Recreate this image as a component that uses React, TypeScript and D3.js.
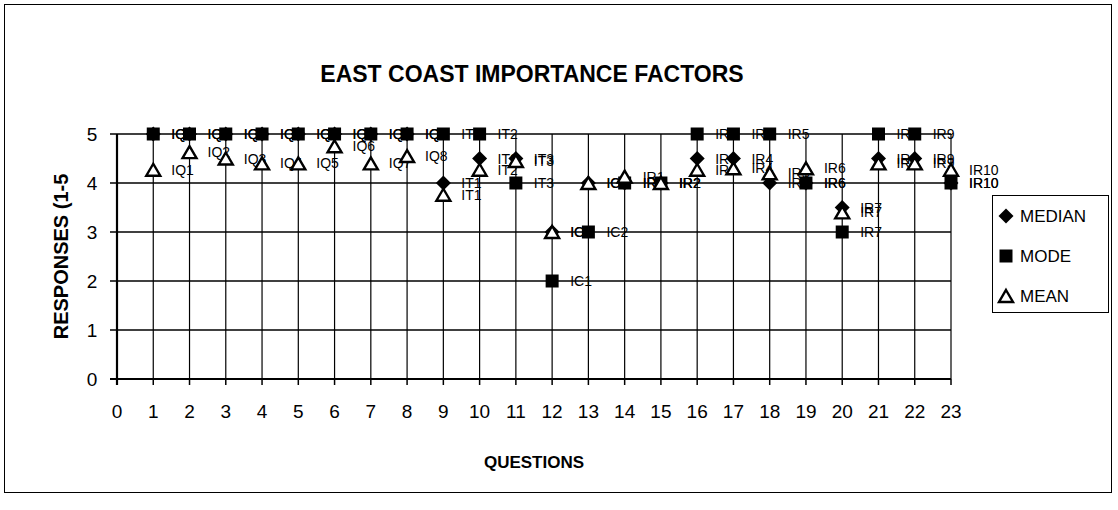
import React from 'react';
import * as d3 from 'd3';

// question codes, one per x position 1..23
const questions = [
  'IQ1', 'IQ2', 'IQ3', 'IQ4', 'IQ5', 'IQ6', 'IQ7', 'IQ8',
  'IT1', 'IT2', 'IT3', 'IC1', 'IC2',
  'IR1', 'IR2', 'IR3', 'IR4', 'IR5', 'IR6', 'IR7', 'IR8', 'IR9', 'IR10',
];
const medianValues = [5, 5, 5, 5, 5, 5, 5, 5, 4, 4.5, 4.5, 3, 4, 4, 4, 4.5, 4.5, 4, 4, 3.5, 4.5, 4.5, 4];
const modeValues = [5, 5, 5, 5, 5, 5, 5, 5, 5, 5, 4, 2, 3, 4, 4, 5, 5, 5, 4, 3, 5, 5, 4];
const meanValues = [4.27, 4.63, 4.5, 4.4, 4.4, 4.75, 4.4, 4.55, 3.76, 4.27, 4.45, 3.0, 4.0, 4.13, 4.0, 4.27, 4.3, 4.2, 4.3, 3.4, 4.4, 4.4, 4.27];
const xTicks = d3.range(0, 24);
const yTicks = [0, 1, 2, 3, 4, 5];

const W = 1118;
const H = 510;
const font = 'Arial, "Liberation Sans", sans-serif';

const x = d3.scaleLinear().domain([0, 23]).range([117, 951]);
const y = d3.scaleLinear().domain([0, 5]).range([379, 134]);

// marker outlines, roughly as large as the scanned ones
const diamond = 'M0,-7.5L7.5,0L0,7.5L-7.5,0Z';
const square = 'M-6.5,-6.5H6.5V6.5H-6.5Z';
const triangle = 'M0,-6L7,6H-7Z';

type Series = { key: string; values: number[]; shape: string; filled: boolean };
const series: Series[] = [
  { key: 'MEDIAN', values: medianValues, shape: diamond, filled: true },
  { key: 'MODE', values: modeValues, shape: square, filled: true },
  { key: 'MEAN', values: meanValues, shape: triangle, filled: false },
];

const Marker = ({ s, cx, cy }: { s: Series; cx: number; cy: number }) => (
  <path
    d={s.shape}
    transform={`translate(${cx},${cy})`}
    fill={s.filled ? '#000' : '#fff'}
    stroke="#000"
    strokeWidth={s.filled ? 0 : 2.4}
  />
);

export default function App() {
  const [x0, x1] = x.range();
  const [y0, y1] = y.range();
  return (
    <svg width={W} height={H} style={{ position: 'absolute', left: 0, top: 0, background: '#fff' }}>
      <rect x={4.5} y={4.5} width={1107} height={488} fill="#fff" stroke="#000" strokeWidth={1} />

      <text x={532} y={82} textAnchor="middle" fontFamily={font} fontWeight="bold" fontSize={23}>
        EAST COAST IMPORTANCE FACTORS
      </text>

      {/* grid */}
      {yTicks.slice(1).map(t => (
        <line key={'gy' + t} x1={x0} x2={x1} y1={y(t)} y2={y(t)} stroke="#000" strokeWidth={1.5} />
      ))}
      {xTicks.slice(1).map(t => (
        <line key={'gx' + t} x1={x(t)} x2={x(t)} y1={y0} y2={y1} stroke="#000" strokeWidth={1.2} />
      ))}

      {/* axes */}
      <line x1={x0} x2={x0} y1={y0 + 6} y2={y1} stroke="#000" strokeWidth={2.2} />
      <line x1={x0 - 7} x2={x1} y1={y0} y2={y0} stroke="#000" strokeWidth={2.2} />
      {yTicks.map(t => (
        <g key={'ty' + t}>
          <line x1={x0 - 7} x2={x0} y1={y(t)} y2={y(t)} stroke="#000" strokeWidth={1.5} />
          <text x={92} y={y(t)} dy="0.36em" textAnchor="middle" fontFamily={font} fontSize={19}>{t}</text>
        </g>
      ))}
      {xTicks.map(t => (
        <g key={'tx' + t}>
          <line x1={x(t)} x2={x(t)} y1={y0} y2={y0 + 6} stroke="#000" strokeWidth={1.5} />
          <text x={x(t)} y={418} textAnchor="middle" fontFamily={font} fontSize={19}>{t}</text>
        </g>
      ))}

      <text x={534} y={468} textAnchor="middle" fontFamily={font} fontWeight="bold" fontSize={17}>QUESTIONS</text>
      <text
        transform={`translate(68,${(y0 + y1) / 2}) rotate(-90)`}
        textAnchor="middle"
        fontFamily={font}
        fontWeight="bold"
        fontSize={20}
      >
        RESPONSES (1-5
      </text>

      {/* data labels */}
      {series.map(s =>
        s.values.map((v, i) => (
          <text
            key={s.key + 'l' + i}
            x={x(i + 1) + 18}
            y={y(v)}
            dy="0.36em"
            fontFamily={font}
            fontSize={14}
          >
            {questions[i]}
          </text>
        ))
      )}

      {/* markers */}
      {series.map(s =>
        s.values.map((v, i) => <Marker key={s.key + 'm' + i} s={s} cx={x(i + 1)} cy={y(v)} />)
      )}

      {/* legend */}
      <rect x={992.5} y={195.5} width={116} height={117} fill="#fff" stroke="#000" strokeWidth={1} />
      {series.map((s, i) => (
        <g key={'lg' + s.key} transform={`translate(1006,${216 + i * 40})`}>
          <Marker s={s} cx={0} cy={0} />
          <text x={14} y={0} dy="0.36em" fontFamily={font} fontSize={17}>{s.key}</text>
        </g>
      ))}
    </svg>
  );
}
